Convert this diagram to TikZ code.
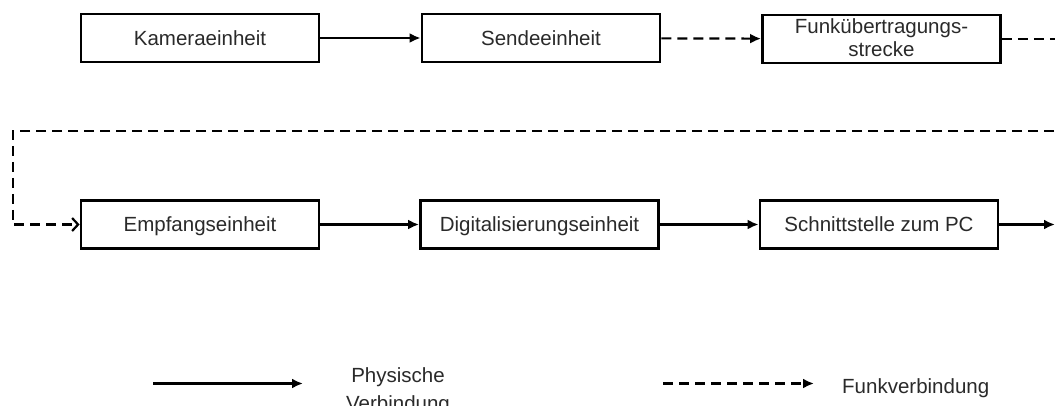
\documentclass[tikz,border=0pt]{standalone}
\usepackage{fontspec}
\setmainfont{Liberation Sans}
\usetikzlibrary{arrows.meta}
\definecolor{txt}{HTML}{2A2A2A}
\begin{document}
\begin{tikzpicture}[x=1pt,y=-1pt,
  unit/.style={draw=black,line width=2.8pt,minimum width=238pt,minimum height=48pt,
    inner sep=0pt,align=center,text=txt,font=\fontsize{20.5}{23}\selectfont},
  oneline/.style={unit,text height=14.8pt,text depth=0pt},
  label/.style={inner sep=0pt,align=center,text=txt,font=\fontsize{20.5}{28}\selectfont},
  wire/.style={line width=2.2pt,-{Latex[length=11pt,width=10pt]}},
  radio/.style={line width=2.2pt,dash pattern=on 10pt off 6pt,-{Latex[length=11pt,width=10pt]}},
  radioin/.style={line width=2.2pt,dash pattern=on 10pt off 6pt,-{Straight Barb[length=6pt,width=13pt,line width=2.2pt]}}]
  \useasboundingbox (0,0) rectangle (1055,405);
  \fill[white] (0,0) rectangle (1055,405);

  % upper row
  \node[oneline] (kam) at (200,38) {Kameraeinheit};
  \node[oneline] (send) at (541,38) {Sendeeinheit};
  \node[unit,text depth=2pt] (funk) at (881.5,39) {Funkübertragungs-\\strecke};

  % lower row
  \node[oneline] (empf) at (200,224.5) {Empfangseinheit};
  \node[oneline] (dig) at (539.5,224.5) {Digitalisierungseinheit};
  \node[oneline] (pc) at (879,224.5) {Schnittstelle zum PC};

  % route of the radio link back to the lower row
  \coordinate (r1) at (1070,39);
  \coordinate (r2) at (1070,131);
  \coordinate (r3) at (13,131);
  \coordinate (r4) at (13,224.5);
  \coordinate (out) at (1055,224.5);

  \draw[wire] (kam) -- (send);
  \draw[radio] (send) -- (funk);
  \draw[radioin] (funk.east) -- (r1) -- (r2) -- (r3) -- (r4) -- (empf.west);
  \draw[wire] (empf) -- (dig);
  \draw[wire] (dig) -- (pc);
  \draw[wire] (pc.east) -- (out);

  % legend
  \coordinate (la) at (153,383.5);
  \coordinate (lb) at (303,383.5);
  \coordinate (lc) at (663,383.5);
  \coordinate (ld) at (814,383.5);
  \draw[wire] (la) -- (lb);
  \draw[radio] (lc) -- (ld);
  \node[label,anchor=north] (lphys) at (398,367) {Physische\\Verbindung};
  \node[label,anchor=base west] (lfunk) at (842,393) {Funkverbindung};
\end{tikzpicture}
\end{document}
